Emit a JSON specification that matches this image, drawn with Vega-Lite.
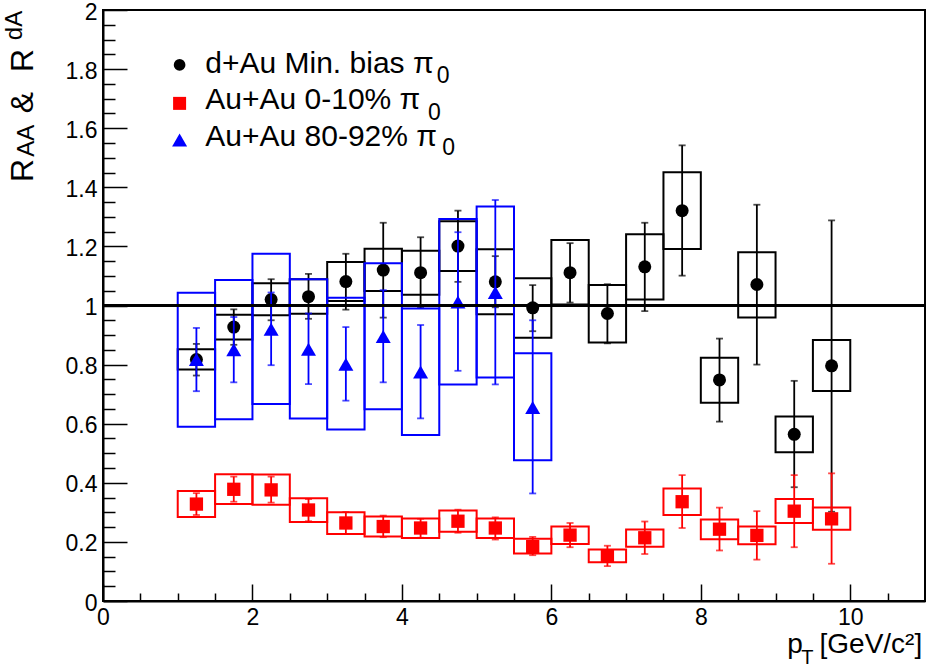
{
  "$schema": "https://vega.github.io/schema/vega-lite/v6.json",
  "width": 822,
  "height": 591,
  "autosize": {"type": "none"},
  "padding": {"left": 103, "top": 10, "right": 1, "bottom": 67},
  "config": {
    "font": "Liberation Sans",
    "view": {"stroke": "black", "strokeWidth": 2},
    "text": {"font": "Liberation Sans", "color": "black"}
  },
  "resolve": {"axis": {"x": "independent", "y": "independent"}},
  "datasets": {
    "raa": [
      {"set": "dAu", "pt": 1.25, "xlo": 1.0, "xhi": 1.5, "r": 0.817, "elo": 0.763, "ehi": 0.870, "slo": 0.783, "shi": 0.852},
      {"set": "dAu", "pt": 1.75, "xlo": 1.5, "xhi": 2.0, "r": 0.927, "elo": 0.867, "ehi": 0.987, "slo": 0.885, "shi": 0.969},
      {"set": "dAu", "pt": 2.25, "xlo": 2.0, "xhi": 2.5, "r": 1.020, "elo": 0.950, "ehi": 1.089, "slo": 0.967, "shi": 1.075},
      {"set": "dAu", "pt": 2.75, "xlo": 2.5, "xhi": 3.0, "r": 1.030, "elo": 0.955, "ehi": 1.107, "slo": 0.972, "shi": 1.089},
      {"set": "dAu", "pt": 3.25, "xlo": 3.0, "xhi": 3.5, "r": 1.081, "elo": 0.986, "ehi": 1.175, "slo": 1.015, "shi": 1.147},
      {"set": "dAu", "pt": 3.75, "xlo": 3.5, "xhi": 4.0, "r": 1.120, "elo": 0.959, "ehi": 1.280, "slo": 1.049, "shi": 1.192},
      {"set": "dAu", "pt": 4.25, "xlo": 4.0, "xhi": 4.5, "r": 1.111, "elo": 0.992, "ehi": 1.231, "slo": 1.036, "shi": 1.185},
      {"set": "dAu", "pt": 4.75, "xlo": 4.5, "xhi": 5.0, "r": 1.201, "elo": 1.080, "ehi": 1.321, "slo": 1.117, "shi": 1.285},
      {"set": "dAu", "pt": 5.25, "xlo": 5.0, "xhi": 5.5, "r": 1.080, "elo": 0.994, "ehi": 1.167, "slo": 0.970, "shi": 1.190},
      {"set": "dAu", "pt": 5.75, "xlo": 5.5, "xhi": 6.0, "r": 0.992, "elo": 0.913, "ehi": 1.069, "slo": 0.891, "shi": 1.092},
      {"set": "dAu", "pt": 6.25, "xlo": 6.0, "xhi": 6.5, "r": 1.111, "elo": 1.010, "ehi": 1.211, "slo": 1.003, "shi": 1.222},
      {"set": "dAu", "pt": 6.75, "xlo": 6.5, "xhi": 7.0, "r": 0.973, "elo": 0.872, "ehi": 1.072, "slo": 0.875, "shi": 1.069},
      {"set": "dAu", "pt": 7.25, "xlo": 7.0, "xhi": 7.5, "r": 1.131, "elo": 0.981, "ehi": 1.280, "slo": 1.020, "shi": 1.241},
      {"set": "dAu", "pt": 7.75, "xlo": 7.5, "xhi": 8.0, "r": 1.321, "elo": 1.101, "ehi": 1.542, "slo": 1.191, "shi": 1.451},
      {"set": "dAu", "pt": 8.25, "xlo": 8.0, "xhi": 8.5, "r": 0.748, "elo": 0.607, "ehi": 0.888, "slo": 0.671, "shi": 0.823},
      {"set": "dAu", "pt": 8.75, "xlo": 8.5, "xhi": 9.0, "r": 1.071, "elo": 0.800, "ehi": 1.341, "slo": 0.959, "shi": 1.180},
      {"set": "dAu", "pt": 9.25, "xlo": 9.0, "xhi": 9.5, "r": 0.564, "elo": 0.385, "ehi": 0.745, "slo": 0.503, "shi": 0.624},
      {"set": "dAu", "pt": 9.75, "xlo": 9.5, "xhi": 10.0, "r": 0.796, "elo": 0.302, "ehi": 1.288, "slo": 0.711, "shi": 0.883},

      {"set": "AuAu80", "pt": 1.25, "xlo": 1.0, "xhi": 1.5, "r": 0.817, "elo": 0.710, "ehi": 0.924, "slo": 0.590, "shi": 1.043},
      {"set": "AuAu80", "pt": 1.75, "xlo": 1.5, "xhi": 2.0, "r": 0.850, "elo": 0.740, "ehi": 0.961, "slo": 0.615, "shi": 1.086},
      {"set": "AuAu80", "pt": 2.25, "xlo": 2.0, "xhi": 2.5, "r": 0.920, "elo": 0.798, "ehi": 1.044, "slo": 0.667, "shi": 1.175},
      {"set": "AuAu80", "pt": 2.75, "xlo": 2.5, "xhi": 3.0, "r": 0.852, "elo": 0.734, "ehi": 0.973, "slo": 0.618, "shi": 1.089},
      {"set": "AuAu80", "pt": 3.25, "xlo": 3.0, "xhi": 3.5, "r": 0.801, "elo": 0.678, "ehi": 0.927, "slo": 0.580, "shi": 1.026},
      {"set": "AuAu80", "pt": 3.75, "xlo": 3.5, "xhi": 4.0, "r": 0.895, "elo": 0.740, "ehi": 1.052, "slo": 0.649, "shi": 1.143},
      {"set": "AuAu80", "pt": 4.25, "xlo": 4.0, "xhi": 4.5, "r": 0.775, "elo": 0.618, "ehi": 0.934, "slo": 0.562, "shi": 0.990},
      {"set": "AuAu80", "pt": 4.75, "xlo": 4.5, "xhi": 5.0, "r": 1.012, "elo": 0.779, "ehi": 1.248, "slo": 0.733, "shi": 1.293},
      {"set": "AuAu80", "pt": 5.25, "xlo": 5.0, "xhi": 5.5, "r": 1.044, "elo": 0.733, "ehi": 1.357, "slo": 0.756, "shi": 1.335},
      {"set": "AuAu80", "pt": 5.75, "xlo": 5.5, "xhi": 6.0, "r": 0.655, "elo": 0.364, "ehi": 0.950, "slo": 0.476, "shi": 0.838},

      {"set": "AuAu0", "pt": 1.25, "xlo": 1.0, "xhi": 1.5, "r": 0.328, "elo": 0.291, "ehi": 0.365, "slo": 0.284, "shi": 0.372},
      {"set": "AuAu0", "pt": 1.75, "xlo": 1.5, "xhi": 2.0, "r": 0.378, "elo": 0.336, "ehi": 0.421, "slo": 0.328, "shi": 0.429},
      {"set": "AuAu0", "pt": 2.25, "xlo": 2.0, "xhi": 2.5, "r": 0.376, "elo": 0.333, "ehi": 0.421, "slo": 0.326, "shi": 0.428},
      {"set": "AuAu0", "pt": 2.75, "xlo": 2.5, "xhi": 3.0, "r": 0.308, "elo": 0.270, "ehi": 0.345, "slo": 0.267, "shi": 0.348},
      {"set": "AuAu0", "pt": 3.25, "xlo": 3.0, "xhi": 3.5, "r": 0.264, "elo": 0.227, "ehi": 0.301, "slo": 0.227, "shi": 0.300},
      {"set": "AuAu0", "pt": 3.75, "xlo": 3.5, "xhi": 4.0, "r": 0.252, "elo": 0.216, "ehi": 0.289, "slo": 0.218, "shi": 0.286},
      {"set": "AuAu0", "pt": 4.25, "xlo": 4.0, "xhi": 4.5, "r": 0.247, "elo": 0.214, "ehi": 0.278, "slo": 0.213, "shi": 0.279},
      {"set": "AuAu0", "pt": 4.75, "xlo": 4.5, "xhi": 5.0, "r": 0.270, "elo": 0.231, "ehi": 0.309, "slo": 0.234, "shi": 0.306},
      {"set": "AuAu0", "pt": 5.25, "xlo": 5.0, "xhi": 5.5, "r": 0.247, "elo": 0.208, "ehi": 0.283, "slo": 0.213, "shi": 0.279},
      {"set": "AuAu0", "pt": 5.75, "xlo": 5.5, "xhi": 6.0, "r": 0.184, "elo": 0.155, "ehi": 0.217, "slo": 0.161, "shi": 0.211},
      {"set": "AuAu0", "pt": 6.25, "xlo": 6.0, "xhi": 6.5, "r": 0.223, "elo": 0.182, "ehi": 0.264, "slo": 0.193, "shi": 0.252},
      {"set": "AuAu0", "pt": 6.75, "xlo": 6.5, "xhi": 7.0, "r": 0.152, "elo": 0.118, "ehi": 0.187, "slo": 0.131, "shi": 0.174},
      {"set": "AuAu0", "pt": 7.25, "xlo": 7.0, "xhi": 7.5, "r": 0.214, "elo": 0.159, "ehi": 0.269, "slo": 0.184, "shi": 0.242},
      {"set": "AuAu0", "pt": 7.75, "xlo": 7.5, "xhi": 8.0, "r": 0.336, "elo": 0.247, "ehi": 0.426, "slo": 0.291, "shi": 0.381},
      {"set": "AuAu0", "pt": 8.25, "xlo": 8.0, "xhi": 8.5, "r": 0.243, "elo": 0.171, "ehi": 0.316, "slo": 0.209, "shi": 0.276},
      {"set": "AuAu0", "pt": 8.75, "xlo": 8.5, "xhi": 9.0, "r": 0.222, "elo": 0.140, "ehi": 0.304, "slo": 0.192, "shi": 0.252},
      {"set": "AuAu0", "pt": 9.25, "xlo": 9.0, "xhi": 9.5, "r": 0.304, "elo": 0.182, "ehi": 0.426, "slo": 0.264, "shi": 0.345},
      {"set": "AuAu0", "pt": 9.75, "xlo": 9.5, "xhi": 10.0, "r": 0.278, "elo": 0.126, "ehi": 0.432, "slo": 0.241, "shi": 0.316}
    ]
  },
  "data": {"name": "raa"},
  "layer": [
    {
      "transform": [{"filter": "datum.set === 'dAu'"}],
      "mark": {"type": "rect", "fillOpacity": 0, "stroke": "black", "strokeWidth": 2},
      "encoding": {
        "x": {
          "field": "xlo", "type": "quantitative",
          "scale": {"domain": [0, 11], "nice": false, "zero": false},
          "axis": {
            "orient": "bottom", "title": null, "grid": false,
            "values": [0, 2, 4, 6, 8, 10],
            "tickSize": -17, "tickColor": "black", "tickWidth": 1.5,
            "domainColor": "black", "domainWidth": 2,
            "labelFont": "Liberation Sans", "labelFontSize": 23, "labelColor": "black",
            "labelPadding": 22, "labelOverlap": false, "labelFlush": false, "labelBound": false
          }
        },
        "x2": {"field": "xhi"},
        "y": {
          "field": "slo", "type": "quantitative",
          "scale": {"domain": [0, 2], "nice": false, "zero": false},
          "axis": {
            "orient": "left", "title": null, "grid": false,
            "values": [0, 0.2, 0.4, 0.6, 0.8, 1, 1.2, 1.4, 1.6, 1.8, 2],
            "format": ".1~f",
            "tickSize": -24, "tickColor": "black", "tickWidth": 1.5,
            "domainColor": "black", "domainWidth": 2,
            "labelFont": "Liberation Sans", "labelFontSize": 23, "labelColor": "black",
            "labelPadding": 30, "labelOffset": 2, "labelOverlap": false, "labelFlush": false, "labelBound": false
          }
        },
        "y2": {"field": "shi"}
      }
    },
    {
      "transform": [{"filter": "datum.set === 'dAu'"}],
      "mark": {"type": "errorbar", "color": "black", "thickness": 1.8, "ticks": {"size": 7}},
      "encoding": {
        "x": {"field": "pt", "type": "quantitative", "axis": null},
        "y": {"field": "elo", "type": "quantitative", "axis": null},
        "y2": {"field": "ehi"}
      }
    },
    {
      "transform": [{"filter": "datum.set === 'dAu'"}],
      "mark": {"type": "point", "shape": "circle", "filled": true, "opacity": 1, "color": "black", "size": 169},
      "encoding": {
        "x": {
          "field": "pt", "type": "quantitative",
          "axis": {
            "orient": "bottom", "title": null, "grid": false, "domain": false, "labels": false,
            "values": [0.5, 1, 1.5, 2.5, 3, 3.5, 4.5, 5, 5.5, 6.5, 7, 7.5, 8.5, 9, 9.5, 10.5],
            "tickSize": -8, "tickColor": "black", "tickWidth": 1.5
          }
        },
        "y": {
          "field": "r", "type": "quantitative",
          "axis": {
            "orient": "left", "title": null, "grid": false, "domain": false, "labels": false,
            "values": [0.05, 0.1, 0.15, 0.25, 0.3, 0.35, 0.45, 0.5, 0.55, 0.65, 0.7, 0.75, 0.85, 0.9, 0.95, 1.05, 1.1, 1.15, 1.25, 1.3, 1.35, 1.45, 1.5, 1.55, 1.65, 1.7, 1.75, 1.85, 1.9, 1.95],
            "tickSize": -12, "tickColor": "black", "tickWidth": 1.5
          }
        }
      }
    },
    {
      "transform": [{"filter": "datum.set === 'AuAu80'"}],
      "mark": {"type": "rect", "fillOpacity": 0, "stroke": "#0000ff", "strokeWidth": 2},
      "encoding": {
        "x": {"field": "xlo", "type": "quantitative", "axis": null},
        "x2": {"field": "xhi"},
        "y": {"field": "slo", "type": "quantitative", "axis": null},
        "y2": {"field": "shi"}
      }
    },
    {
      "transform": [{"filter": "datum.set === 'AuAu80'"}],
      "mark": {"type": "errorbar", "color": "#0000ff", "thickness": 1.8, "ticks": {"size": 7}},
      "encoding": {
        "x": {"field": "pt", "type": "quantitative", "axis": null},
        "y": {"field": "elo", "type": "quantitative", "axis": null},
        "y2": {"field": "ehi"}
      }
    },
    {
      "transform": [{"filter": "datum.set === 'AuAu80'"}],
      "mark": {"type": "point", "shape": "triangle-up", "filled": true, "opacity": 1, "color": "#0000ff", "size": 225},
      "encoding": {
        "x": {"field": "pt", "type": "quantitative", "axis": null},
        "y": {"field": "r", "type": "quantitative", "axis": null}
      }
    },
    {
      "transform": [{"filter": "datum.set === 'AuAu0'"}],
      "mark": {"type": "rect", "fillOpacity": 0, "stroke": "#ff0000", "strokeWidth": 2},
      "encoding": {
        "x": {"field": "xlo", "type": "quantitative", "axis": null},
        "x2": {"field": "xhi"},
        "y": {"field": "slo", "type": "quantitative", "axis": null},
        "y2": {"field": "shi"}
      }
    },
    {
      "transform": [{"filter": "datum.set === 'AuAu0'"}],
      "mark": {"type": "errorbar", "color": "#ff0000", "thickness": 1.8, "ticks": {"size": 7}},
      "encoding": {
        "x": {"field": "pt", "type": "quantitative", "axis": null},
        "y": {"field": "elo", "type": "quantitative", "axis": null},
        "y2": {"field": "ehi"}
      }
    },
    {
      "transform": [{"filter": "datum.set === 'AuAu0'"}],
      "mark": {"type": "point", "shape": "square", "filled": true, "opacity": 1, "color": "#ff0000", "size": 177},
      "encoding": {
        "x": {"field": "pt", "type": "quantitative", "axis": null},
        "y": {"field": "r", "type": "quantitative", "axis": null}
      }
    },
    {
      "data": {"values": [{"ref": 1}]},
      "mark": {"type": "rule", "color": "black", "strokeWidth": 3},
      "encoding": {"y": {"field": "ref", "type": "quantitative", "axis": null}}
    },
    {
      "data": {"values": [{}]},
      "layer": [
        {
          "mark": {"type": "point", "shape": "circle", "filled": true, "opacity": 1, "color": "black", "size": 137},
          "encoding": {"x": {"datum": 1.025, "type": "quantitative", "axis": null}, "y": {"datum": 1.814, "type": "quantitative", "axis": null}}
        },
        {
          "mark": {"type": "point", "shape": "square", "filled": true, "opacity": 1, "color": "#ff0000", "size": 169},
          "encoding": {"x": {"datum": 1.025, "type": "quantitative", "axis": null}, "y": {"datum": 1.684, "type": "quantitative", "axis": null}}
        },
        {
          "mark": {"type": "point", "shape": "triangle-up", "filled": true, "opacity": 1, "color": "#0000ff", "size": 225},
          "encoding": {"x": {"datum": 1.025, "type": "quantitative", "axis": null}, "y": {"datum": 1.560, "type": "quantitative", "axis": null}}
        },
        {
          "mark": {"type": "text", "fontSize": 30, "align": "left", "baseline": "alphabetic"},
          "encoding": {"x": {"datum": 1.369, "type": "quantitative", "axis": null}, "y": {"datum": 1.786, "type": "quantitative", "axis": null}, "text": {"value": "d+Au Min. bias π"}}
        },
        {
          "mark": {"type": "text", "fontSize": 23, "align": "left", "baseline": "alphabetic"},
          "encoding": {"x": {"datum": 4.465, "type": "quantitative", "axis": null}, "y": {"datum": 1.753, "type": "quantitative", "axis": null}, "text": {"value": "0"}}
        },
        {
          "mark": {"type": "text", "fontSize": 30, "align": "left", "baseline": "alphabetic"},
          "encoding": {"x": {"datum": 1.369, "type": "quantitative", "axis": null}, "y": {"datum": 1.664, "type": "quantitative", "axis": null}, "text": {"value": "Au+Au 0-10% π"}}
        },
        {
          "mark": {"type": "text", "fontSize": 23, "align": "left", "baseline": "alphabetic"},
          "encoding": {"x": {"datum": 4.35, "type": "quantitative", "axis": null}, "y": {"datum": 1.628, "type": "quantitative", "axis": null}, "text": {"value": "0"}}
        },
        {
          "mark": {"type": "text", "fontSize": 30, "align": "left", "baseline": "alphabetic"},
          "encoding": {"x": {"datum": 1.369, "type": "quantitative", "axis": null}, "y": {"datum": 1.540, "type": "quantitative", "axis": null}, "text": {"value": "Au+Au 80-92% π"}}
        },
        {
          "mark": {"type": "text", "fontSize": 23, "align": "left", "baseline": "alphabetic"},
          "encoding": {"x": {"datum": 4.54, "type": "quantitative", "axis": null}, "y": {"datum": 1.509, "type": "quantitative", "axis": null}, "text": {"value": "0"}}
        },
        {
          "mark": {"type": "text", "fontSize": 28, "align": "left", "baseline": "alphabetic"},
          "encoding": {"x": {"datum": 9.157, "type": "quantitative", "axis": null}, "y": {"datum": -0.176, "type": "quantitative", "axis": null}, "text": {"value": "p"}}
        },
        {
          "mark": {"type": "text", "fontSize": 20, "align": "left", "baseline": "alphabetic"},
          "encoding": {"x": {"datum": 9.345, "type": "quantitative", "axis": null}, "y": {"datum": -0.212, "type": "quantitative", "axis": null}, "text": {"value": "T"}}
        },
        {
          "mark": {"type": "text", "fontSize": 28, "align": "right", "baseline": "alphabetic"},
          "encoding": {"x": {"datum": 10.963, "type": "quantitative", "axis": null}, "y": {"datum": -0.176, "type": "quantitative", "axis": null}, "text": {"value": "[GeV/c²]"}}
        },
        {
          "mark": {"type": "text", "fontSize": 32, "align": "left", "baseline": "alphabetic", "angle": 270},
          "encoding": {"x": {"datum": -0.933, "type": "quantitative", "axis": null}, "y": {"datum": 1.418, "type": "quantitative", "axis": null}, "text": {"value": "R"}}
        },
        {
          "mark": {"type": "text", "fontSize": 24, "align": "left", "baseline": "alphabetic", "angle": 270},
          "encoding": {"x": {"datum": -0.92, "type": "quantitative", "axis": null}, "y": {"datum": 1.503, "type": "quantitative", "axis": null}, "text": {"value": "AA"}}
        },
        {
          "mark": {"type": "text", "fontSize": 32, "align": "left", "baseline": "alphabetic", "angle": 270},
          "encoding": {"x": {"datum": -0.933, "type": "quantitative", "axis": null}, "y": {"datum": 1.651, "type": "quantitative", "axis": null}, "text": {"value": "&"}}
        },
        {
          "mark": {"type": "text", "fontSize": 32, "align": "left", "baseline": "alphabetic", "angle": 270},
          "encoding": {"x": {"datum": -0.933, "type": "quantitative", "axis": null}, "y": {"datum": 1.790, "type": "quantitative", "axis": null}, "text": {"value": "R"}}
        },
        {
          "mark": {"type": "text", "fontSize": 24, "align": "left", "baseline": "alphabetic", "angle": 270},
          "encoding": {"x": {"datum": -1.08, "type": "quantitative", "axis": null}, "y": {"datum": 1.898, "type": "quantitative", "axis": null}, "text": {"value": "dA"}}
        }
      ]
    }
  ]
}
